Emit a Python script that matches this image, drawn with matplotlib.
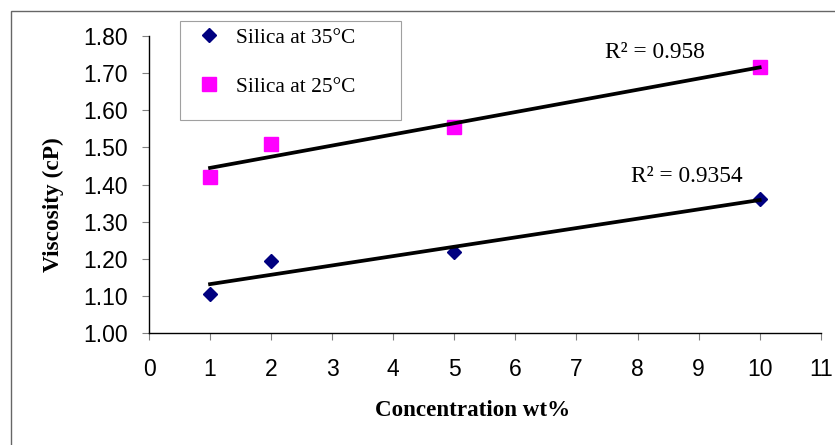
import numpy as np
import matplotlib
matplotlib.use("Agg")
import matplotlib.pyplot as plt
from matplotlib.patches import Rectangle
from matplotlib.ticker import FormatStrFormatter

# Silica nanofluid viscosity vs. concentration
concentration = [1, 2, 5, 10]
visc_35C = [1.106, 1.194, 1.219, 1.360]
visc_25C = [1.419, 1.510, 1.555, 1.716]
labels = ["Silica at 35°C", "Silica at 25°C"]
r2_labels = ["R² = 0.9354", "R² = 0.958"]
x_ticks = list(range(0, 12))
y_ticks = [1.00, 1.10, 1.20, 1.30, 1.40, 1.50, 1.60, 1.70, 1.80]

W, H = 835, 445
fig = plt.figure(figsize=(W / 100, H / 100), dpi=100)
fig.patch.set_facecolor("white")

def fx(px):
    return px / W

def fy(py):
    return 1 - py / H

# outer chart-area border (only top and left visible)
fig.add_artist(Rectangle((fx(10.5), fy(500)), 1.2, fy(11) - fy(500),
                         transform=fig.transFigure, fill=False,
                         edgecolor="#666666", linewidth=1.0))

ax = fig.add_axes([fx(149), fy(333), fx(820.7) - fx(149), fy(36) - fy(333)])
ax.set_xlim(0, 11)
ax.set_ylim(1.0, 1.8)
ax.set_xticks(x_ticks)
ax.set_yticks(y_ticks)
ax.yaxis.set_major_formatter(FormatStrFormatter("%.2f"))

for s in ["top", "right"]:
    ax.spines[s].set_visible(False)
for s in ["left", "bottom"]:
    ax.spines[s].set_color("black")
    ax.spines[s].set_linewidth(1.0)

sans = "Liberation Sans"
serif = "Liberation Serif"
ax.tick_params(axis="both", direction="out", length=5, width=0.8,
               color="#808080", labelsize=16.5)
ax.tick_params(axis="y", pad=10)
ax.tick_params(axis="x", pad=13)
for lab in ax.get_xticklabels() + ax.get_yticklabels():
    lab.set_fontfamily(sans)

x = np.array(concentration, dtype=float)
h1, = ax.plot(x, visc_35C, linestyle="none", marker="D", markersize=7.5,
              color="#000080", zorder=3)
h2, = ax.plot(x, visc_25C, linestyle="none", marker="s", markersize=9.5,
              color="#FF00FF", zorder=3)

# linear trendlines
for ys in (visc_35C, visc_25C):
    k, b = np.polyfit(x, ys, 1)
    ax.plot([x.min(), x.max()], [k * x.min() + b, k * x.max() + b],
            color="black", linewidth=2.7, zorder=4)

fig.text(fx(686.5), fy(176), r2_labels[0], family=serif, fontsize=16.8,
         ha="center", va="center")
fig.text(fx(654.5), fy(53), r2_labels[1], family=serif, fontsize=16.8,
         ha="center", va="center")

fig.text(fx(473), fy(411), "Concentration wt%", family=serif, fontweight="bold",
         fontsize=16.6, ha="center", va="center")
fig.text(fx(53), fy(205), "Viscosity (cP)", family=serif, fontweight="bold",
         fontsize=16.8, ha="center", va="center", rotation=90)

# legend box
fig.add_artist(Rectangle((fx(180), fy(120)), fx(401) - fx(180), fy(21) - fy(120),
                         transform=fig.transFigure, facecolor="white",
                         edgecolor="#A0A0A0", linewidth=0.8, zorder=5))
fig.legend([h1, h2], labels, loc="upper left",
           bbox_to_anchor=(fx(198), fy(28)), bbox_transform=fig.transFigure,
           frameon=False, prop={"family": serif, "size": 15.4},
           labelspacing=1.35, handlelength=1.0, handletextpad=0.8,
           borderaxespad=0, borderpad=0).set_zorder(6)

fig.savefig("out.png", dpi=100)
